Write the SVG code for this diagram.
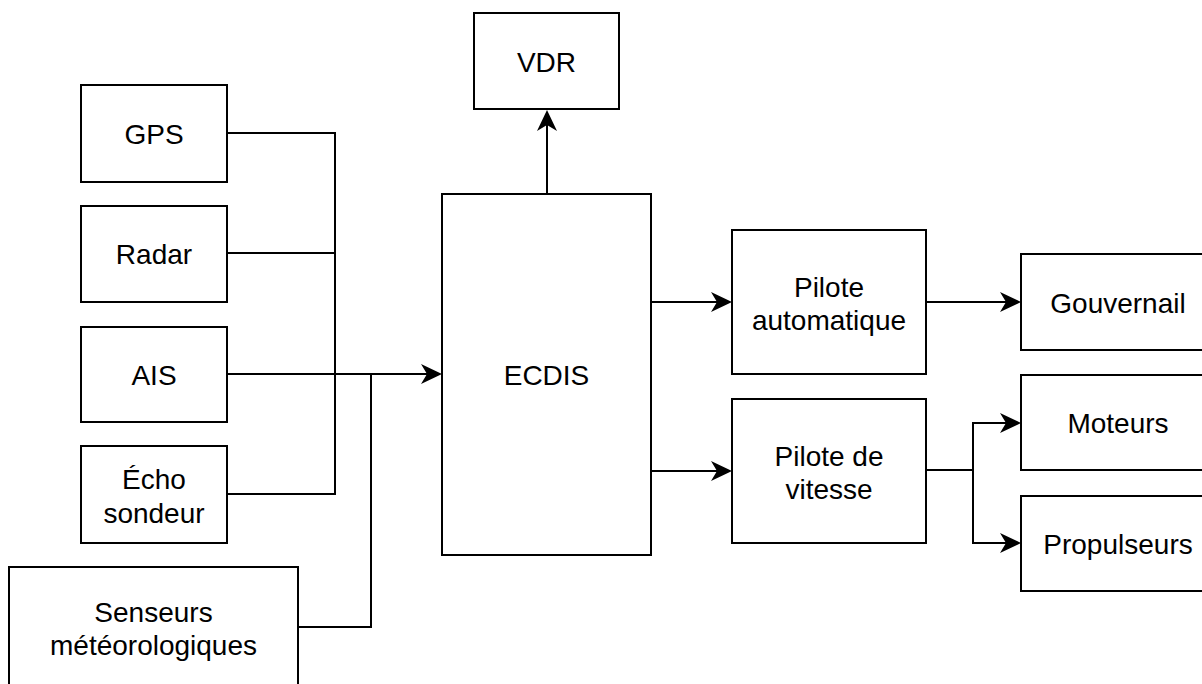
<svg xmlns="http://www.w3.org/2000/svg" width="1202" height="684" viewBox="0 0 1202 684">
  <style>
    .box { fill: #ffffff; stroke: #000000; stroke-width: 2; }
    .lbl { font-family: "Liberation Sans", Arial, Helvetica, sans-serif; font-size: 28px; fill: #000000; text-anchor: middle; }
    .wire { fill: none; stroke: #000000; stroke-width: 2; }
    .arrow { fill: none; stroke: #000000; stroke-width: 2; marker-end: url(#head); }
  </style>
  <defs>
    <marker id="head" markerUnits="userSpaceOnUse" markerWidth="22" markerHeight="22" viewBox="0 0 22 22" refX="6" refY="11" orient="auto">
      <path d="M0,1 L21,11 L0,21 L6,11 Z" fill="#000000"/>
    </marker>
  </defs>
  <rect width="1202" height="684" fill="#ffffff"/>

  <!-- connectors -->
  <g id="connectors">
    <!-- sensor bus into ECDIS -->
    <path class="wire" d="M227,133 H335 V494 H227"/>
    <path class="wire" d="M227,253 H335"/>
    <path class="wire" d="M298,627 H371 V374"/>
    <path class="arrow" d="M227,374 H427"/>
    <!-- ECDIS outputs -->
    <path class="arrow" d="M547,194 V125"/>
    <path class="arrow" d="M651,302 H717"/>
    <path class="arrow" d="M651,471 H717"/>
    <!-- autopilot to rudder -->
    <path class="arrow" d="M926,302 H1006"/>
    <!-- speed pilot to engines and thrusters -->
    <path class="wire" d="M926,470 H973"/>
    <path class="arrow" d="M973,470 V423 H1006"/>
    <path class="arrow" d="M973,470 V543 H1006"/>
  </g>

  <!-- nodes -->
  <g id="gps">
    <rect class="box" x="81" y="85" width="146" height="97"/>
    <text class="lbl" x="154" y="144">GPS</text>
  </g>
  <g id="radar">
    <rect class="box" x="81" y="206" width="146" height="96"/>
    <text class="lbl" x="154" y="264">Radar</text>
  </g>
  <g id="ais">
    <rect class="box" x="81" y="327" width="146" height="95"/>
    <text class="lbl" x="154" y="385">AIS</text>
  </g>
  <g id="echo-sondeur">
    <rect class="box" x="81" y="446" width="146" height="97"/>
    <text class="lbl" x="154" y="489">Écho</text>
    <text class="lbl" x="154" y="522.5">sondeur</text>
  </g>
  <g id="senseurs-meteo">
    <rect class="box" x="9" y="567" width="289" height="122"/>
    <text class="lbl" x="153.5" y="621.5">Senseurs</text>
    <text class="lbl" x="153.5" y="655">météorologiques</text>
  </g>
  <g id="vdr">
    <rect class="box" x="474" y="13" width="145" height="96"/>
    <text class="lbl" x="546.5" y="72">VDR</text>
  </g>
  <g id="ecdis">
    <rect class="box" x="442" y="194" width="209" height="361"/>
    <text class="lbl" x="546.5" y="385">ECDIS</text>
  </g>
  <g id="pilote-automatique">
    <rect class="box" x="732" y="230" width="194" height="144"/>
    <text class="lbl" x="829" y="296.5">Pilote</text>
    <text class="lbl" x="829" y="329.5">automatique</text>
  </g>
  <g id="pilote-vitesse">
    <rect class="box" x="732" y="399" width="194" height="144"/>
    <text class="lbl" x="829" y="465.5">Pilote de</text>
    <text class="lbl" x="829" y="498.5">vitesse</text>
  </g>
  <g id="gouvernail">
    <rect class="box" x="1021" y="254" width="194" height="96"/>
    <text class="lbl" x="1118" y="312.5">Gouvernail</text>
  </g>
  <g id="moteurs">
    <rect class="box" x="1021" y="375" width="194" height="95"/>
    <text class="lbl" x="1118" y="433">Moteurs</text>
  </g>
  <g id="propulseurs">
    <rect class="box" x="1021" y="496" width="194" height="95"/>
    <text class="lbl" x="1118" y="554">Propulseurs</text>
  </g>
</svg>
